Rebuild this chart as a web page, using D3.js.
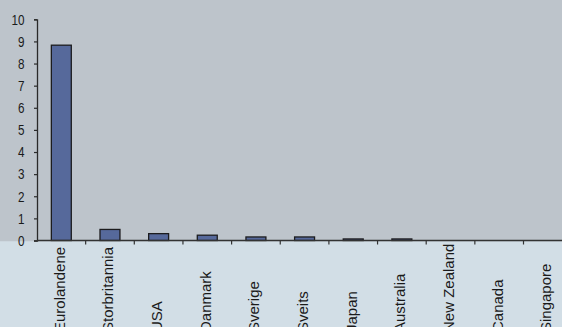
<!DOCTYPE html>
<html>
<head>
<meta charset="utf-8">
<script src="https://cdn.jsdelivr.net/npm/d3@7"></script>
<style>
  html, body { margin: 0; padding: 0; background: #d2dee6; }
  svg { display: block; }
</style>
</head>
<body>
<svg id="chart" width="562" height="327"></svg>
<script>
// Countries along the category axis
const countries = ["Eurolandene", "Storbritannia", "USA", "Danmark", "Sverige", "Sveits",
                   "Japan", "Australia", "New Zealand", "Canada", "Singapore"];
// Value per country
const values = [8.83, 0.5, 0.31, 0.24, 0.16, 0.16, 0.07, 0.07, 0, 0, 0];
// Value axis ticks
const yTicks = [0, 1, 2, 3, 4, 5, 6, 7, 8, 9, 10];

const W = 562, H = 327;
const svg = d3.select("#chart");

const plotLeft = 37, plotTop = 19.3, plotBottom = 240.5;
const bandStep = 48.65;
const fontFamily = "'Liberation Sans', Arial, sans-serif";

const x = d3.scaleBand()
  .domain(countries)
  .range([plotLeft, plotLeft + bandStep * countries.length])
  .paddingInner(0.59)
  .paddingOuter(0.295);

const y = d3.scaleLinear().domain([0, 10]).range([plotBottom, plotTop]);

// Backgrounds: plot area band on top, lighter strip under the axis
svg.append("rect").attr("x", 0).attr("y", 0).attr("width", W).attr("height", 241.5)
  .attr("fill", "#bdc4cb");
svg.append("rect").attr("x", 0).attr("y", 241.5).attr("width", W).attr("height", H - 241.5)
  .attr("fill", "#d2dee6");

// Bars
svg.append("g").selectAll("rect")
  .data(values)
  .join("rect")
  .attr("x", (d, i) => x(countries[i]))
  .attr("y", d => y(d))
  .attr("width", x.bandwidth())
  .attr("height", d => y(0) - y(d))
  .attr("fill", "#56699b")
  .attr("stroke", "#1c1c1e")
  .attr("stroke-width", 1.3)
  .attr("display", d => d > 0 ? null : "none");

// Y axis with condensed tick numbers
const condense = 0.78;
const yAxis = d3.axisLeft(y).tickValues(yTicks).tickSize(3)
  .tickFormat(d3.format("d"));
const gy = svg.append("g").attr("transform", `translate(${plotLeft},0)`).call(yAxis);
gy.select(".domain").attr("stroke", "#2a2a2a").attr("stroke-width", 1.3);
gy.selectAll(".tick line").attr("stroke", "#2a2a2a").attr("stroke-width", 1.2);
gy.selectAll(".tick text")
  .attr("x", -12.5 / condense)
  .attr("transform", `scale(${condense},1)`)
  .attr("fill", "#1a1a1a")
  .style("font-family", fontFamily)
  .style("font-size", "15px");

// X axis line with category boundary ticks
const xEnd = plotLeft + bandStep * countries.length;
svg.append("line")
  .attr("x1", plotLeft).attr("x2", xEnd)
  .attr("y1", plotBottom).attr("y2", plotBottom)
  .attr("stroke", "#333333").attr("stroke-width", 1.5);
const boundaries = d3.range(1, countries.length + 1).map(i => plotLeft + i * bandStep);
svg.append("g").selectAll("line")
  .data(boundaries)
  .join("line")
  .attr("x1", d => d).attr("x2", d => d)
  .attr("y1", plotBottom).attr("y2", plotBottom + 4)
  .attr("stroke", "#333333").attr("stroke-width", 1.2);

// Rotated category labels, reading upward from below the strip
svg.append("g").selectAll("text")
  .data(countries)
  .join("text")
  .attr("transform", d => `translate(${x(d) + x.bandwidth() / 2 + 3.5},332) rotate(-90)`)
  .attr("text-anchor", "start")
  .attr("fill", "#1a1a1a")
  .style("font-family", fontFamily)
  .style("font-size", "15px")
  .text(d => d);
</script>
</body>
</html>
